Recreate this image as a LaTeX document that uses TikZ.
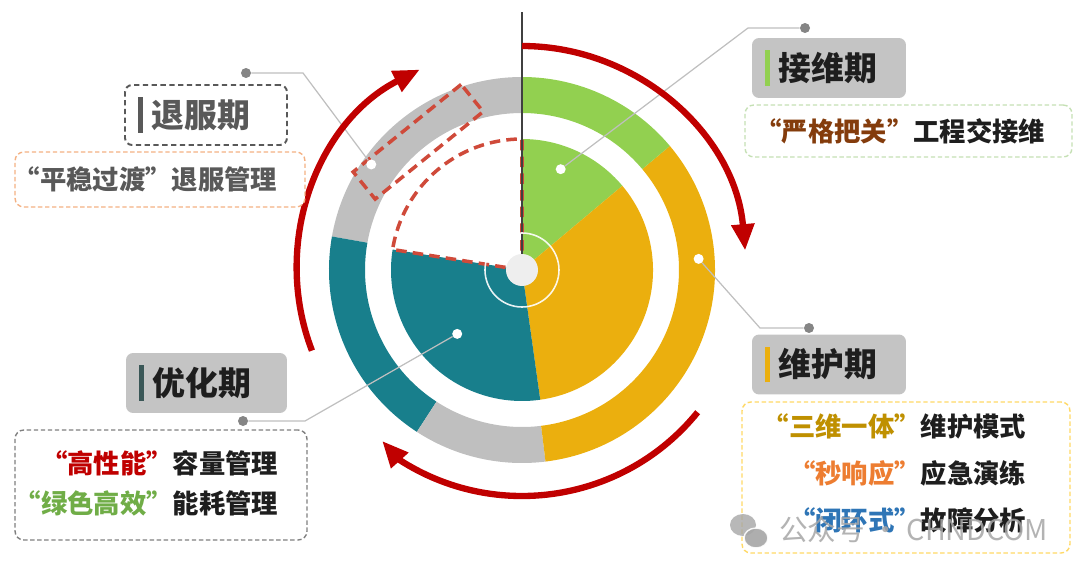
\documentclass[tikz,border=0pt]{standalone}
\usepackage{fontspec}
\setmainfont{Noto Sans CJK SC}
\definecolor{GreenSeg}{HTML}{92D050}
\definecolor{GoldSeg}{HTML}{EBAF0E}
\definecolor{TealSeg}{HTML}{187F8C}
\definecolor{GreySeg}{HTML}{BFBFBF}
\definecolor{ArrowRed}{HTML}{C00000}
\definecolor{DashRed}{HTML}{CF4A3A}
\definecolor{HubFill}{HTML}{EEEEEE}
\definecolor{AxisGray}{HTML}{404040}
\definecolor{LeaderGray}{HTML}{BFBFBF}
\definecolor{PinGray}{HTML}{858585}
\definecolor{TitleFill}{HTML}{C4C4C4}
\definecolor{TextDark}{HTML}{1E1E1E}
\definecolor{TextGray}{HTML}{595959}
\definecolor{QuoteBrown}{HTML}{843C0C}
\definecolor{QuoteGold}{HTML}{BF9000}
\definecolor{QuoteOrange}{HTML}{ED7D31}
\definecolor{QuoteBlue}{HTML}{2E75B6}
\definecolor{QuoteRed}{HTML}{C00000}
\definecolor{QuoteGreen}{HTML}{70AD47}
\definecolor{BarTeal}{HTML}{3A5757}
\definecolor{BoxGreen}{HTML}{C5E0B4}
\definecolor{BoxGold}{HTML}{FFD966}
\definecolor{BoxSalmon}{HTML}{F4B183}
\definecolor{BoxGray}{HTML}{7F7F7F}
\definecolor{MarkGray}{HTML}{A6A6A6}
\usetikzlibrary{arrows.meta, positioning, calc, shapes.geometric}
\newcommand{\phasebar}[1]{{\color{#1}\rule[-3.1pt]{2.8pt}{20.4pt}}\hspace{5pt}}

\begin{document}
\begin{tikzpicture}[x=0.02cm, y=0.02cm,
  every node/.style={font=\bfseries},
  titlebox/.style={rectangle, rounded corners=4pt, fill=TitleFill,
                   text=TextDark, minimum height=1.2cm, inner xsep=0.26cm,
                   align=left, font=\fontsize{18.7}{22}\selectfont\bfseries},
  descbox/.style={rectangle, rounded corners=5pt, fill=white, dashed,
                  line width=0.8pt, dash pattern=on 2.5pt off 1.5pt},
  desctext/.style={anchor=east, inner sep=0pt, align=right, text=TextDark,
                   font=\fontsize{15}{20}\selectfont\bfseries},
  dot/.style={circle, fill=white, inner sep=0pt, minimum size=0.2cm},
  pin/.style={circle, fill=PinGray, inner sep=0pt, minimum size=0.2cm},
  leader/.style={draw=LeaderGray, line width=0.7pt},
  cyclearr/.style={-{Triangle[length=15pt, width=12.5pt]}, draw=ArrowRed,
                   line width=3.6pt},
  gapline/.style={draw=DashRed, line width=2pt, dash pattern=on 6pt off 3.5pt}
]
\useasboundingbox (0,0) rectangle (1080,576);

\coordinate (C) at (522,306);

% outer ring
\foreach \a/\b/\col in {90/170/GreySeg, 170/237/TealSeg, 237/277/GreySeg,
                        277/400/GoldSeg, 40/90/GreenSeg}
  \fill[\col] ($(C)+(\a:193)$) arc[start angle=\a, end angle=\b, radius=193]
    -- ($(C)+(\b:157)$) arc[start angle=\b, end angle=\a, radius=157] -- cycle;

% inner pie
\foreach \a/\b/\col in {40/90/GreenSeg, 278/400/GoldSeg, 171/278/TealSeg}
  \fill[\col] (C) -- ($(C)+(\a:131)$)
    arc[start angle=\a, end angle=\b, radius=131] -- cycle;

\draw[gapline] (C) -- ($(C)+(171:131)$)
  arc[start angle=171, end angle=90, radius=131] -- cycle;
\node[draw=DashRed, line width=2pt, dash pattern=on 6pt off 3.5pt,
      rotate=39, minimum width=2.78cm, minimum height=0.7cm, inner sep=0pt]
  (oldSeg) at ($(C)+(129:165)$) {};

\coordinate (axisTop) at (522,564);
\draw[AxisGray, line width=1.2pt] (C) -- (axisTop);
\draw[white, line width=0.9pt, opacity=0.9] (C) circle[radius=37];
\node[circle, fill=HubFill, inner sep=0pt, minimum size=0.64cm] (hub) at (C) {};

% pins and leaders
\node[dot] (dotHand) at ($(C)+(69:108)$) {};
\node[dot] (dotKeep) at ($(C)+(3.6:177)$) {};
\node[dot] (dotTune) at ($(C)+(224.6:91)$) {};
\node[dot] (dotRetire) at ($(C)+(145:184)$) {};
\node[pin] (pinHand) at (805,548) {};
\node[pin] (pinKeep) at (809,248) {};
\node[pin] (pinTune) at (243,155) {};
\node[pin] (pinRetire) at (246,503) {};
\draw[leader] (dotHand) -- (748,548) -- (pinHand);
\draw[leader] (dotKeep) -- (760,248) -- (pinKeep);
\draw[leader] (dotTune) -- (305,155) -- (pinTune);
\draw[leader] (dotRetire) -- (303,503) -- (pinRetire);

% cycle arrows
\draw[cyclearr] ($(C)+(90:224)$) arc[start angle=90, end angle=5, radius=224];
\draw[cyclearr] ($(C)+(-39:226)$) arc[start angle=-39, end angle=-123, radius=226]
  -- ++(132:25);
\draw[cyclearr] ($(C)+(201:225)$) arc[start angle=201, end angle=117, radius=225];

% phase titles
\node[titlebox, fill=white, draw=TextGray, text=TextGray, line width=1.1pt,
      dash pattern=on 3pt off 2pt, minimum width=3.24cm, text width=2.72cm]
  (retireTitle) at (206,461) {\phasebar{TextGray}退服期};
\node[titlebox, minimum width=3.08cm, text width=2.56cm]
  (handTitle) at (829,508) {\phasebar{GreenSeg}接维期};
\node[titlebox, minimum width=3.08cm, text width=2.56cm]
  (keepTitle) at (829,211.5) {\phasebar{GoldSeg}维护期};
\node[titlebox, minimum width=3.22cm, text width=2.7cm]
  (tuneTitle) at (206.5,193) {\phasebar{BarTeal}优化期};

% phase details
\node[descbox, draw=BoxSalmon, minimum width=5.8cm, minimum height=1.1cm]
  (retireBox) at (160,396.5) {};
\node[desctext, text=TextGray] (retireDesc)
  at ([xshift=-0.56cm]retireBox.east) {“平稳过渡”退服管理};

\node[descbox, draw=BoxGreen, minimum width=6.54cm, minimum height=1.04cm]
  (handBox) at (908.5,445) {};
\node[desctext] (handDesc) at ([xshift=-0.54cm]handBox.east)
  {{\color{QuoteBrown}“严格把关”}工程交接维};

\node[descbox, draw=BoxGold, minimum width=6.56cm, minimum height=3.02cm]
  (keepBox) at (906,98.5) {};
\node[desctext, font=\fontsize{15}{26.6}\selectfont\bfseries] (keepDesc)
  at ([xshift=-0.88cm, yshift=0.08cm]keepBox.east)
  {{\color{QuoteGold}“三维一体”}维护模式\\
   {\color{QuoteOrange}“秒响应”}应急演练\\
   {\color{QuoteBlue}“闭环式”}故障分析};

\node[descbox, draw=BoxGray, minimum width=5.84cm, minimum height=2.2cm]
  (tuneBox) at (161,91) {};
\node[desctext, font=\fontsize{15}{22.7}\selectfont\bfseries] (tuneDesc)
  at ([xshift=-0.58cm, yshift=0.04cm]tuneBox.east)
  {{\color{QuoteRed}“高性能”}容量管理\\
   {\color{QuoteGreen}“绿色高效”}能耗管理};

% watermark
\fill[MarkGray, opacity=0.8] (743,51) ellipse[x radius=13, y radius=11];
\fill[MarkGray, draw=white, line width=0.8pt, opacity=0.9]
  (756,38) ellipse[x radius=12, y radius=10];
\node[anchor=west, text=MarkGray, opacity=0.85, inner sep=0pt,
      font=\fontsize{16.3}{20}\selectfont\mdseries]
  (markText) at (779,46) {公众号 · CHNDCOM};
\end{tikzpicture}
\end{document}
